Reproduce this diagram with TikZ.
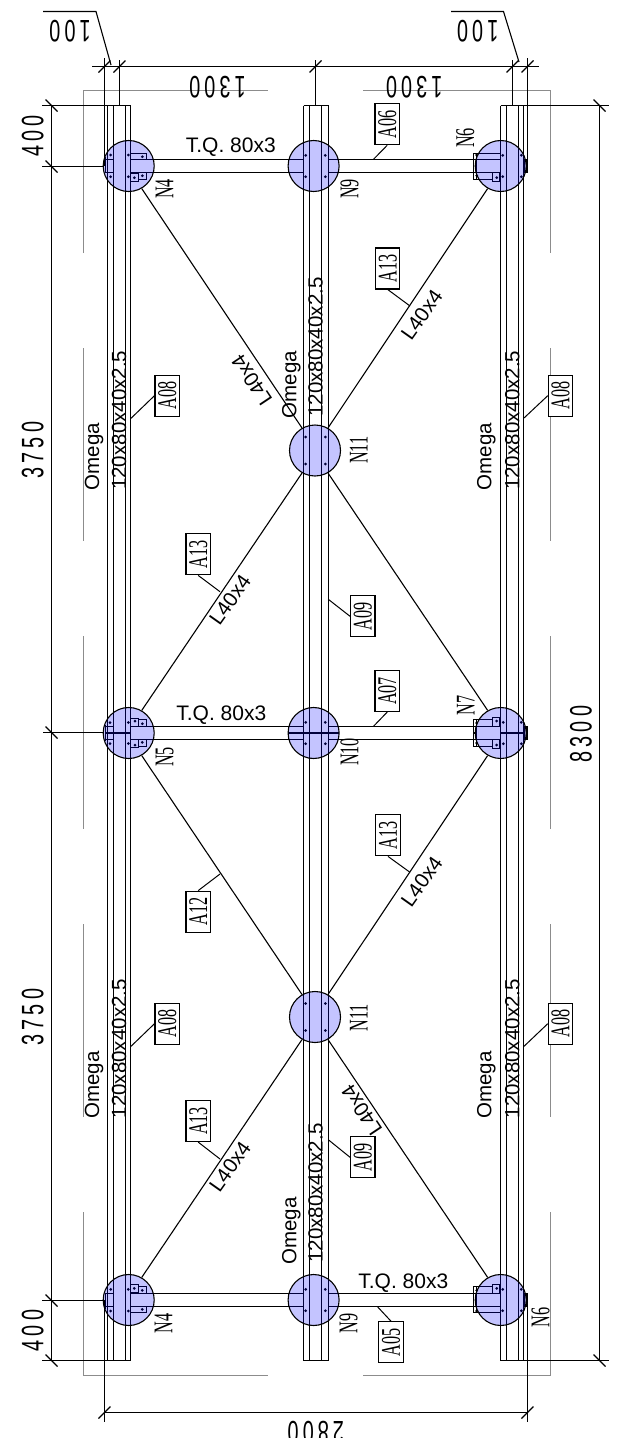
\documentclass[tikz,border=0pt]{standalone}
\usepackage{fontspec}
\setmainfont{Liberation Sans}
\newfontfamily\dimfam[FakeStretch=0.64,LetterSpace=13]{Liberation Sans}
\newfontfamily\tagfam[FakeStretch=0.6]{Liberation Serif}
\tikzset{
  rail/.style={line width=1.1pt,black},
  railb/.style={line width=1.4pt,black},
  beam/.style={line width=1.3pt,black},
  dimline/.style={line width=1.1pt,black},
  graybox/.style={line width=1.1pt,black!45},
  joint/.style={circle,draw=black,line width=1.1pt,fill=blue,fill opacity=.23,draw opacity=1,minimum size=51pt,inner sep=0pt},
  diag/.style={line width=1.1pt,black},
  dimtext/.style={font=\dimfam\fontsize{31}{31}\selectfont,inner sep=0pt,anchor=base},
  sanstext/.style={font=\fontsize{20.5}{20.5}\selectfont,inner sep=0pt,anchor=base},
  tqtext/.style={font=\fontsize{21}{21}\selectfont,inner sep=0pt},
  nodetext/.style={font=\tagfam\fontsize{27}{27}\selectfont,inner sep=0pt,anchor=base,rotate=90},
  tagbox/.style={draw=black,line width=1.2pt,fill=white,font=\tagfam\fontsize{27}{27}\selectfont,inner sep=0pt,rotate=90,minimum width=41pt,minimum height=24.3pt},
  leader/.style={line width=1pt,black}
}
\newcommand\bolt[2]{\fill (#1,#2) circle[radius=1.5pt];}
\newcommand\tagb[7]{%
  \node[tagbox] (#1) at (#2,#3) {#4};
  \coordinate (#1e) at (#6,#7);
  \draw[leader] (#1.#5) -- (#1e);}
\newcommand\tickh[2]{\draw[dimline] ({#1-6},{#2+6}) -- ({#1+6},{#2-6});}
\newcommand\tickv[2]{\draw[dimline] ({#1-6},{#2-6}) -- ({#1+6},{#2+6});}
\newcommand\capLeft{%
  \draw[beam] (105,-6.5)--(113.5,-6.5) (105,6.5)--(113.5,6.5) (105.5,-9)--(105.5,7);
  \draw[rail] (130.5,-12.5) rectangle (146.5,-6.5) (138.5,6.5) rectangle (146.5,13.5) (130.5,7.5) rectangle (138.5,15.5);
  \bolt{110.7}{-11}\bolt{110.7}{10.7}\bolt{128.3}{-11}\bolt{128.3}{10.7}\bolt{142.3}{-9.3}\bolt{142.3}{9.7}\bolt{134.3}{11.7}}
\newcommand\capMid{%
  \bolt{305.7}{-10.7}\bolt{305.7}{10.7}\bolt{325.3}{-10.7}\bolt{325.3}{10.7}
  \draw[beam] (288,-6.5)--(303.5,-6.5) (288,6.5)--(303.5,6.5);}
\newcommand\capRight{%
  \draw[rail] (473.5,-12.5) rectangle (476.5,13.5);
  \draw[rail] (476.5,-12.5)--(500,-12.5) (476.5,13.5)--(492.5,13.5) (492.5,6.5) rectangle (500,15.5);
  \draw[railb] (524,-6) rectangle (527,6);
  \bolt{476.7}{-11}\bolt{476.7}{9.7}\bolt{502.7}{-10.7}\bolt{502.7}{10.7}\bolt{521.3}{-10.7}\bolt{521.3}{10.7}\bolt{496.7}{11.7}}
\begin{document}
\begin{tikzpicture}[x=1pt,y=-1pt]
\useasboundingbox (0,0) rectangle (621,1438);
\clip (0,0) rectangle (621,1438);
% gray outline
\draw[graybox] (83.5,253)--(83.5,90.5)--(268,90.5) (363,90.5)--(550.5,90.5)--(550.5,253);
\draw[graybox] (83.5,1212)--(83.5,1375.5)--(268,1375.5) (363,1375.5)--(550.5,1375.5)--(550.5,1212);
\foreach \a/\b in {348/541,636/829,924/1117}{
  \draw[graybox] (83.5,\a)--(83.5,\b) (550.5,\a)--(550.5,\b);}
% rails
\foreach \x in {107.5,113.5,125.5,130.5,303.5,309.5,328.5,500.5,506.5,518.5}{
  \draw[rail] (\x,105.5)--(\x,1360.5);}
\foreach \x in {321.5,523.5}{\draw[railb] (\x,105.5)--(\x,1360.5);}
\draw[rail] (107.5,105.5)--(130.5,105.5) (303.5,105.5)--(328.5,105.5) (500.5,105.5)--(523.5,105.5);
\draw[rail] (107.5,1360.5)--(130.5,1360.5) (303.5,1360.5)--(328.5,1360.5) (500.5,1360.5)--(523.5,1360.5);
% beams
\foreach \y in {159.5,172.5,726.5,739.5,1293.5,1306.5}{
  \draw[beam] (130.5,\y)--(303.5,\y) (328.5,\y)--(500.5,\y);}
% end details
\begin{scope}[shift={(0,166)}]\capLeft\capMid\capRight\end{scope}
\begin{scope}[shift={(0,1300)},yscale=-1]\capLeft\capMid\capRight\end{scope}
\begin{scope}[shift={(0,733)}]
  \draw[line width=1.7pt] (105,0)--(130,0) (288,0)--(339,0) (500,0)--(524,0);
  \draw[beam] (105,-6.5)--(113.5,-6.5) (105,6.5)--(113.5,6.5) (105.5,-8)--(105.5,8) (288,-6.5)--(303.5,-6.5) (288,6.5)--(303.5,6.5);
  \foreach \s in {1,-1}{
    \begin{scope}[yscale=\s]
    \draw[rail] (130.5,6.5) rectangle (138.5,14.5) (138.5,6.5) rectangle (146.5,13.5);
    \draw[rail] (473.5,0) rectangle (476.5,13.5) (476.5,13.5)--(492.5,13.5) (492.5,6.5) rectangle (500,15.5);
    \bolt{110}{10.5}\bolt{128.3}{10.5}\bolt{135}{12}\bolt{142.3}{9.3}
    \bolt{305.7}{10.7}\bolt{325.3}{10.7}
    \bolt{476.7}{10}\bolt{496.7}{12}\bolt{503.3}{10.7}\bolt{521.3}{10.7}
    \end{scope}}
  \draw[railb] (524,-6) rectangle (527,6);
\end{scope}
\foreach \y in {437,464,1003.5,1030.5}{\bolt{305.7}{\y}\bolt{325.3}{\y}}
% joints
\node[joint] (n4a) at (128.7,166) {};
\node[joint] (n9a) at (313.6,166) {};
\node[joint] (n6a) at (500.7,166) {};
\node[joint] (n5) at (128.7,733) {};
\node[joint] (n10) at (313.6,733) {};
\node[joint] (n7) at (500.7,733) {};
\node[joint] (n4b) at (128.7,1300) {};
\node[joint] (n9b) at (313.6,1300) {};
\node[joint] (n6b) at (500.7,1300) {};
\node[joint] (n11a) at (315,450.5) {};
\node[joint] (n11b) at (315,1017) {};
% diagonals
\draw[diag] (n4a.-60)--(n11a.120);
\draw[diag] (n6a.-120)--(n11a.60);
\draw[diag] (n5.60)--(n11a.-120);
\draw[diag] (n7.120)--(n11a.-60);
\draw[diag] (n5.-60)--(n11b.120);
\draw[diag] (n7.-120)--(n11b.60);
\draw[diag] (n4b.60)--(n11b.-120);
\draw[diag] (n6b.120)--(n11b.-60);
% dimensions
\coordinate (dt) at (92,66.5); \coordinate (dte) at (539,66.5);
\draw[dimline] (dt)--(dte);
\draw[dimline] (104.5,58)--(104.5,166) (119.5,60)--(119.5,105.5) (315.5,60)--(315.5,105.5) (512.5,60)--(512.5,105.5) (527.5,58)--(527.5,170);
\tickh{104.5}{66.5}\tickh{119.5}{66.5}\tickh{315.5}{66.5}\tickh{512.5}{66.5}\tickh{527.5}{66.5}
\draw[dimline] (43,11.5)--(96,11.5)--(111,65);
\draw[dimline] (451,11.5)--(503.5,11.5)--(519,62);
\draw[dimline] (51.5,105.5)--(51.5,1360.5);
\draw[dimline] (42,105.5)--(107.5,105.5) (42,166.5)--(103,166.5) (43,732.5)--(103,732.5) (42,1300.5)--(103,1300.5) (42,1360.5)--(107.5,1360.5);
\tickv{51.5}{105.5}\tickv{51.5}{166.5}\tickv{51.5}{732.5}\tickv{51.5}{1300.5}\tickv{51.5}{1360.5}
\draw[dimline] (599.5,105.5)--(599.5,1360.5);
\draw[dimline] (523.5,105.5)--(609,105.5) (523.5,1360.5)--(609,1360.5);
\tickv{599.5}{105.5}\tickv{599.5}{1360.5}
\draw[dimline] (104.5,1412.5)--(527.5,1412.5);
\draw[dimline] (104.5,1300)--(104.5,1422) (527.5,1293.5)--(527.5,1422);
\tickh{104.5}{1412.5}\tickh{527.5}{1412.5}
% dimension texts
\node[dimtext,rotate=180] (d100a) at (70,20) {100};
\node[dimtext,rotate=180] (d100b) at (477.7,20) {100};
\node[dimtext,rotate=180] (d1300a) at (217.5,76) {1300};
\node[dimtext,rotate=180] (d1300b) at (414.2,76) {1300};
\node[dimtext,rotate=180] (d2800) at (315.8,1421.7) {2800};
\node[dimtext,rotate=90] (d400a) at (43.3,136) {400};
\node[dimtext,rotate=90] (d400b) at (43.3,1330.5) {400};
\node[dimtext,rotate=90] (d3750a) at (43.3,450) {3750};
\node[dimtext,rotate=90] (d3750b) at (43.3,1017) {3750};
\node[dimtext,rotate=90] (d8300) at (591.7,734) {8300};
% sans texts
\node[tqtext] (tq1) at (230.8,147.5) {T.Q. 80x3};
\node[tqtext] (tq2) at (221.3,715.5) {T.Q. 80x3};
\node[tqtext] (tq3) at (403.3,1283.5) {T.Q. 80x3};
\foreach \nm/\x/\y/\xb/\yb in {a/99/456.7/126/420.3,b/296.3/384.5/322.7/347,c/491.4/456.7/519.3/420.3,d/99/1085/126/1048.7,e/296.3/1231/322.7/1193,f/491.4/1085/519.3/1048.7}{
  \node[sanstext,rotate=90] (om\nm) at (\x,\y) {Omega};
  \node[sanstext,rotate=90] (si\nm) at (\xb,\yb) {120x80x40x2.5};
}
\foreach \nm/\x/\y/\r in {a/251.7/380/123.7,b/361.7/1110/123.7,c/421.7/315/54.7,d/421.7/881.7/54.7,e/230/600/54.7,f/230/1166.7/54.7}{
  \node[font=\fontsize{20.5}{20.5}\selectfont,inner sep=0pt,rotate=\r] (l\nm) at (\x,\y) {L40x4};
}
% node labels
\node[nodetext] (tn4a) at (173.3,188.8) {N4};
\node[nodetext] (tn9a) at (358.3,189) {N9};
\node[nodetext] (tn6a) at (474,138) {N6};
\node[nodetext] (tn5) at (173.3,757) {N5};
\node[nodetext] (tn10) at (358.3,752) {N10};
\node[nodetext] (tn7) at (474.7,705.7) {N7};
\node[nodetext] (tn11a) at (367.7,450.3) {N11};
\node[nodetext] (tn11b) at (367.7,1017.8) {N11};
\node[nodetext] (tn4b) at (172.3,1323.3) {N4};
\node[nodetext] (tn9b) at (357.3,1323.3) {N9};
\node[nodetext] (tn6b) at (549.3,1317.3) {N6};
% tags
\tagb{ta}{387.2}{124.2}{A06}{west}{373.3}{159.5}
\tagb{tb}{387.7}{268.4}{A13}{west}{410}{306}
\tagb{tc}{167.2}{395.7}{A08}{north}{131}{418.3}
\tagb{td}{560.5}{395.7}{A08}{north}{524}{418}
\tagb{te}{362.8}{616.3}{A09}{north}{328.3}{599.3}
\tagb{tf}{198.2}{554.3}{A13}{west}{220}{591.7}
\tagb{tg}{387.2}{691}{A07}{west}{373.3}{726.5}
\tagb{th}{388}{835.3}{A13}{west}{410}{872.3}
\tagb{ti}{198.2}{911.7}{A12}{east}{220}{874}
\tagb{tj}{167.2}{1023.7}{A08}{north}{131}{1046.3}
\tagb{tk}{198.2}{1121}{A13}{west}{220}{1159}
\tagb{tl}{560.5}{1023.7}{A08}{north}{524}{1046.3}
\tagb{tm}{362.8}{1157.3}{A09}{north}{328.3}{1139.7}
\tagb{tn}{391}{1342.3}{A05}{east}{377.3}{1306.5}
\end{tikzpicture}
\end{document}
